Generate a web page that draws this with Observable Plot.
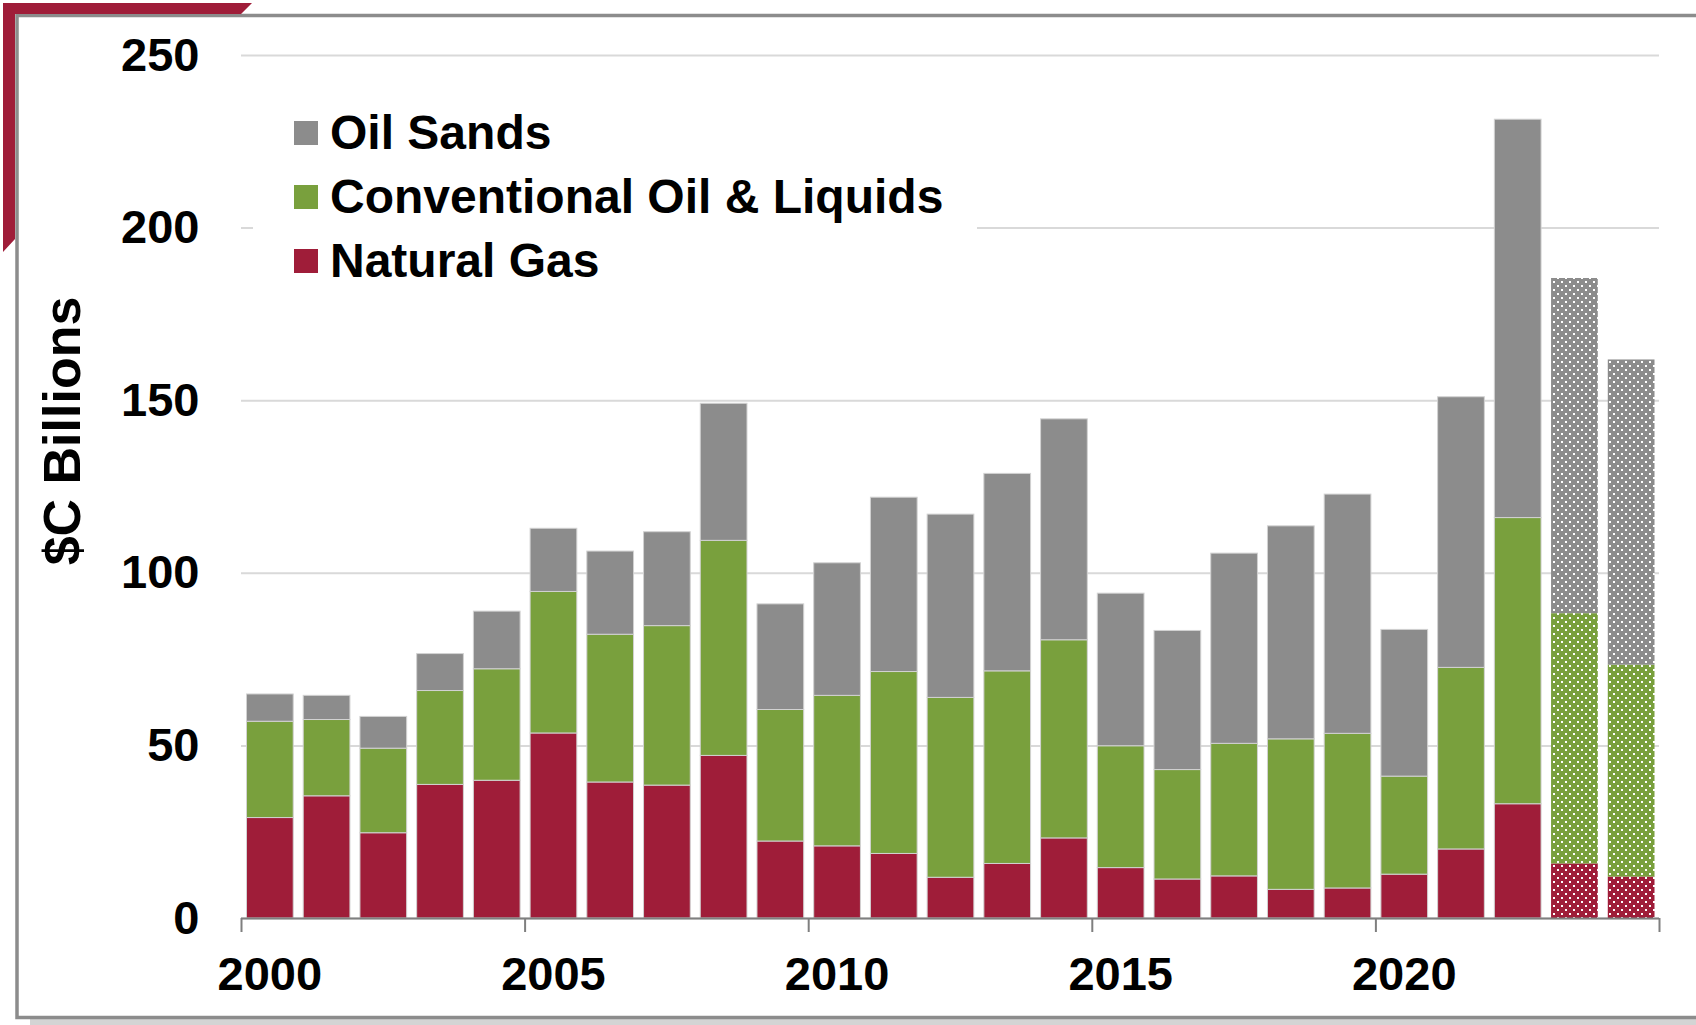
<!DOCTYPE html>
<html>
<head>
<meta charset="utf-8">
<script src="https://cdn.jsdelivr.net/npm/d3@7"></script>
<script src="https://cdn.jsdelivr.net/npm/@observablehq/plot@0.6"></script>
<style>
  html, body { margin: 0; padding: 0; background: #fff; }
  #wrap { position: relative; width: 1696px; height: 1025px; overflow: hidden;
          font-family: "Liberation Sans", Arial, sans-serif; font-weight: bold; color: #000; }
  #deco { position: absolute; left: 0; top: 0; z-index: 0; }
  #chart { position: absolute; left: 0; top: 0; z-index: 1; }
  #legend { position: absolute; left: 253px; top: 92px; width: 724px; height: 210px; background: #fff; z-index: 2;
            padding-top: 9px; box-sizing: border-box; }
  .lrow { height: 64px; display: flex; align-items: center; font-size: 48px; line-height: 64px; white-space: nowrap; }
  .lsw { width: 24px; height: 24px; margin-left: 41px; margin-right: 12px; flex: none; }
  #ytitle { position: absolute; left: 62px; top: 431px; transform: translate(-50%, -50%) rotate(-90deg);
            font-size: 52px; white-space: nowrap; z-index: 2; }
</style>
</head>
<body>
<div id="wrap">
  <svg id="deco" width="1696" height="1025">
    <rect x="30" y="1018" width="1700" height="10" fill="#d4d4d4"></rect>
    <rect x="17" y="15.5" width="1700" height="1002" fill="#fff" stroke="#8c8c8c" stroke-width="3.5"></rect>
    <polygon points="3,3 252,3 241,14 15,14 15,239 3,252" fill="#9F1D39"></polygon>
  </svg>
  <div id="chart"></div>
  <div id="ytitle">$C Billions</div>
  <div id="legend"></div>
</div>
<script>
// ---- data ($C billions) ----
const years = [2000, 2001, 2002, 2003, 2004, 2005, 2006, 2007, 2008, 2009, 2010, 2011, 2012,
               2013, 2014, 2015, 2016, 2017, 2018, 2019, 2020, 2021, 2022, 2023, 2024];
const forecastYears = [2023, 2024];
const seriesNames = ["Natural Gas", "Conventional Oil & Liquids", "Oil Sands"];
const seriesColors = ["#9F1D39", "#79A03D", "#8C8C8C"];
const naturalGas = [29.1, 35.4, 24.7, 38.7, 39.9, 53.6, 39.4, 38.5, 47.1, 22.3, 20.9, 18.7, 11.8,
                    15.8, 23.2, 14.6, 11.3, 12.2, 8.3, 8.7, 12.7, 20.0, 33.1, 15.8, 12.0];
const conventionalOil = [27.9, 22.1, 24.5, 27.2, 32.3, 41.0, 42.8, 46.2, 62.3, 38.1, 43.6, 52.7, 52.1,
                         55.8, 57.4, 35.3, 31.7, 38.4, 43.6, 44.8, 28.4, 52.6, 82.9, 72.5, 61.4];
const oilSands = [7.9, 7.0, 9.2, 10.7, 16.7, 18.3, 24.1, 27.2, 39.7, 30.6, 38.4, 50.5, 53.1,
                  57.2, 64.0, 44.2, 40.3, 55.1, 61.7, 69.3, 42.5, 78.4, 115.4, 97.1, 88.4];
const legendOrder = ["Oil Sands", "Conventional Oil & Liquids", "Natural Gas"];
const yTicks = [0, 50, 100, 150, 200, 250];
const xTickYears = [2000, 2005, 2010, 2015, 2020, 2025];
const xLabelYears = [2000, 2005, 2010, 2015, 2020];
const yTitle = "$C Billions";

// ---- build table ----
const seriesValues = [naturalGas, conventionalOil, oilSands];
const rows = [];
years.forEach((year, i) => {
  seriesNames.forEach((name, s) => {
    rows.push({year, series: name, idx: s, value: seriesValues[s][i], forecast: forecastYears.includes(year)});
  });
});
const actual = rows.filter(d => !d.forecast);
const forecast = rows.filter(d => d.forecast);

const gray = "#7f7f7f";
const svg = Plot.plot({
  width: 1696,
  height: 1025,
  marginLeft: 241,
  marginRight: 37,
  marginTop: 55,
  marginBottom: 107,
  style: {fontFamily: "'Liberation Sans', Arial, sans-serif", fontWeight: "bold", fontSize: "47px", color: "#000", background: "transparent", overflow: "visible"},
  x: {type: "linear", domain: [years[0], years[years.length - 1] + 1]},
  y: {domain: [yTicks[0], yTicks[yTicks.length - 1]]},
  color: {type: "identity"},
  marks: [
    Plot.gridY(yTicks, {stroke: "#d9d9d9", strokeWidth: 2, strokeOpacity: 1}),
    Plot.axisY(yTicks, {tickSize: 0, tickPadding: 42, label: null, fontSize: 47, fontWeight: "bold", fill: "#000"}),
    Plot.rectY(actual, {x: "year", interval: 1, y: "value", fill: d => seriesColors[d.idx],
      insetLeft: 5.5, insetRight: 4.5, stroke: "#d2d2d2", strokeWidth: 1}),
    Plot.rectY(forecast, {x: "year", interval: 1, y: "value", fill: d => `url(#dots-${d.idx})`,
      insetLeft: 5.5, insetRight: 4.5}),
    Plot.ruleY([0], {stroke: gray, strokeWidth: 2}),
    Plot.axisX(xTickYears, {tickSize: 14, stroke: gray, strokeWidth: 2, strokeOpacity: 1, tickFormat: () => "", label: null}),
    Plot.axisX(xLabelYears.map(y => y + 0.5), {tickSize: 0, tickPadding: 38, label: null,
      tickFormat: d => String(Math.floor(d)), fontSize: 47, fontWeight: "bold", fill: "#000"})
  ]
});

// dotted patterns for projected years
const ns = "http://www.w3.org/2000/svg";
const defs = document.createElementNS(ns, "defs");
seriesColors.forEach((c, i) => {
  const p = document.createElementNS(ns, "pattern");
  p.setAttribute("id", `dots-${i}`);
  p.setAttribute("patternUnits", "userSpaceOnUse");
  p.setAttribute("width", 8);
  p.setAttribute("height", 8);
  const bg = document.createElementNS(ns, "rect");
  bg.setAttribute("width", 8); bg.setAttribute("height", 8); bg.setAttribute("fill", c);
  p.appendChild(bg);
  [[1, 1], [5, 5]].forEach(([x, y]) => {
    const r = document.createElementNS(ns, "rect");
    r.setAttribute("x", x); r.setAttribute("y", y);
    r.setAttribute("width", 2); r.setAttribute("height", 2); r.setAttribute("fill", "#fff");
    p.appendChild(r);
  });
  defs.appendChild(p);
});
svg.insertBefore(defs, svg.firstChild);
document.getElementById("chart").appendChild(svg);

// legend
const legend = document.getElementById("legend");
legendOrder.forEach(name => {
  const row = document.createElement("div");
  row.className = "lrow";
  const sw = document.createElement("div");
  sw.className = "lsw";
  sw.style.background = seriesColors[seriesNames.indexOf(name)];
  const t = document.createElement("span");
  t.textContent = name;
  row.appendChild(sw); row.appendChild(t);
  legend.appendChild(row);
});
document.getElementById("ytitle").textContent = yTitle;
</script>
</body>
</html>
